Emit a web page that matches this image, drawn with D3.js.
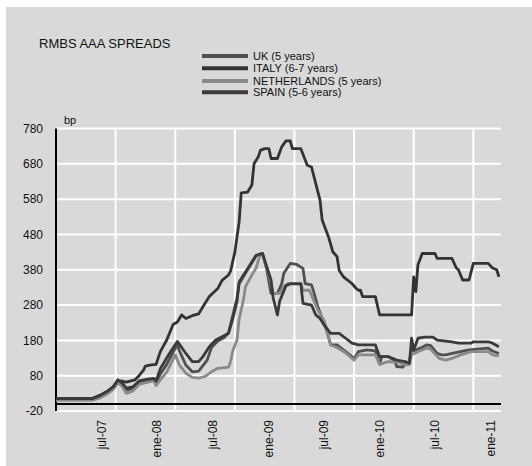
<!DOCTYPE html>
<html><head><meta charset="utf-8">
<script src="https://cdn.jsdelivr.net/npm/d3@7/dist/d3.min.js"></script>
<style>
html,body{margin:0;padding:0;background:#fff;}
svg{display:block;font-family:"Liberation Sans",Arial,sans-serif;}
</style></head>
<body>
<svg id="c" width="532" height="466"></svg>
<script>
// ---- data (x = week index from 2 Feb 2007, y = spread in bp) ----
const seriesNames = ["UK (5 years)", "ITALY (6-7 years)", "NETHERLANDS (5 years)", "SPAIN (5-6 years)"];
const uk = [[0,15],[17,15],[21,25],[24,35],[27,49],[29,68],[31,58],[33,38],[36,44],[39,63],[43,68],[46,70],[47,58],[49,85],[52,112],[54,135],[57,168],[58,150],[61,110],[64,91],[67,93],[71,124],[73,160],[76,178],[79,188],[81,200],[83,250],[85,300],[86,340],[89,370],[91,390],[94,420],[97,426],[99,380],[101,313],[104,313],[106,340],[107,370],[110,398],[113,395],[116,384],[117,341],[120,337],[121,318],[123,275],[125,241],[127,210],[129,167],[132,167],[136,148],[140,129],[142,148],[146,153],[150,150],[152,112],[153,134],[156,134],[159,124],[160,106],[163,104],[164,117],[165,113],[166,120],[167,158],[168,150],[171,158],[174,167],[176,165],[179,143],[181,139],[183,139],[186,143],[190,148],[194,153],[203,158],[205,150],[208,143]];
const italy = [[0,15],[17,15],[20,22],[24,35],[27,49],[29,64],[31,65],[33,62],[37,68],[39,80],[41,95],[42,107],[44,110],[47,112],[49,148],[52,181],[55,225],[57,232],[59,252],[61,242],[64,250],[67,255],[69,275],[72,304],[76,327],[78,350],[81,365],[82,376],[84,430],[86,515],[87,598],[90,600],[92,620],[93,680],[95,700],[96,718],[98,723],[100,723],[101,695],[104,695],[106,728],[108,745],[110,745],[111,723],[115,723],[118,676],[120,671],[122,624],[124,577],[125,521],[128,473],[130,431],[132,417],[133,378],[135,360],[139,341],[141,327],[142,322],[143,322],[144,304],[150,304],[152,252],[167,252],[168,360],[169,318],[170,395],[171,410],[172,426],[178,426],[179,412],[186,412],[188,385],[189,380],[191,351],[194,351],[196,398],[203,398],[205,385],[207,380],[208,360]];
const netherlands = [[0,10],[17,10],[21,18],[24,28],[27,42],[29,60],[31,50],[33,30],[36,36],[39,55],[43,62],[46,65],[47,52],[49,68],[52,90],[56,139],[58,110],[61,87],[64,75],[67,73],[70,78],[71,82],[74,95],[76,101],[81,104],[82,120],[83,150],[85,181],[86,240],[88,294],[89,332],[92,365],[94,385],[96,426],[97,420],[99,388],[101,340],[102,313],[105,313],[107,332],[109,341],[115,341],[116,322],[119,322],[121,294],[123,266],[126,235],[129,167],[132,160],[136,145],[140,124],[142,139],[150,139],[152,112],[156,120],[161,118],[164,110],[166,112],[167,139],[170,148],[174,158],[176,155],[180,129],[183,124],[186,129],[190,139],[195,148],[203,148],[205,139],[208,136]];
const spain = [[0,15],[17,15],[21,25],[24,35],[27,49],[29,68],[31,60],[33,45],[36,48],[39,65],[43,70],[46,72],[47,65],[49,100],[52,130],[54,150],[57,177],[61,143],[64,120],[67,120],[69,134],[72,162],[75,181],[78,190],[81,200],[83,240],[85,290],[86,345],[89,374],[91,393],[94,421],[97,426],[99,388],[101,351],[102,300],[104,252],[105,290],[108,335],[110,340],[115,340],[116,285],[120,280],[122,252],[124,242],[126,223],[129,200],[133,200],[136,186],[139,172],[142,167],[150,167],[151,150],[152,134],[156,134],[160,124],[164,120],[166,115],[167,186],[168,153],[170,186],[173,189],[177,189],[179,181],[186,176],[189,172],[195,172],[196,176],[203,176],[205,172],[208,162]];
const seriesColors = ["#505050", "#333333", "#8a8a8a", "#3a3a3a"];
const yTicks = [-20, 80, 180, 280, 380, 480, 580, 680, 780];
const xTickDates = ["2007-07-01","2008-01-01","2008-07-01","2009-01-01","2009-07-01","2010-01-01","2010-07-01","2011-01-01"];
const xTickLabels = ["jul-07","ene-08","jul-08","ene-09","jul-09","ene-10","jul-10","ene-11"];
const gridWeeks = [28, 56, 84, 112, 140, 168, 196];
const startDate = new Date(2007, 1, 2);
const endDate = new Date(2011, 1, 4);

// ---- drawing ----
const svg = d3.select("#c");
const wk = w => d3.timeDay.offset(startDate, Math.round(w * 7));
const x = d3.scaleTime().domain([startDate, endDate]).range([56, 501]);
const y = d3.scaleLinear().domain([-20, 780]).range([411, 128.5]);

svg.append("rect").attr("x", 6).attr("y", 7).attr("width", 526).attr("height", 459).attr("fill", "#d9d9d9");

// grid
const g = svg.append("g");
g.selectAll("line.h").data(yTicks).join("line")
  .attr("x1", x.range()[0]).attr("x2", x.range()[1])
  .attr("y1", d => y(d)).attr("y2", d => y(d))
  .attr("stroke", "#fff").attr("stroke-width", 2);
g.selectAll("line.v").data(gridWeeks).join("line")
  .attr("x1", d => x(wk(d))).attr("x2", d => x(wk(d)))
  .attr("y1", y(780)).attr("y2", y(-20))
  .attr("stroke", "#fff").attr("stroke-width", 2);

// y axis labels
svg.append("g").selectAll("text").data(yTicks).join("text")
  .attr("x", 43).attr("y", d => y(d)).attr("dy", "0.35em")
  .attr("text-anchor", "end").attr("font-size", 12).attr("fill", "#111")
  .text(d => d);

// x labels
svg.append("g").selectAll("text").data(xTickDates).join("text")
  .attr("transform", d => `translate(${x(d3.timeParse("%Y-%m-%d")(d))},420) rotate(-90)`)
  .attr("dy", "0.35em").attr("text-anchor", "end").attr("font-size", 12).attr("fill", "#111")
  .text((d, i) => xTickLabels[i]);

// axes lines
svg.append("line").attr("x1", x.range()[0]).attr("x2", x.range()[1])
  .attr("y1", y(0)).attr("y2", y(0)).attr("stroke", "#000").attr("stroke-width", 2);
svg.append("line").attr("x1", 56).attr("x2", 56)
  .attr("y1", y(780)).attr("y2", y(-20)).attr("stroke", "#000").attr("stroke-width", 2);

// series
const line = d3.line().x(d => x(wk(d[0]))).y(d => y(d[1]));
const allSeries = [uk, italy, netherlands, spain];
svg.append("g").selectAll("path").data(allSeries).join("path")
  .attr("d", line).attr("fill", "none")
  .attr("stroke", (d, i) => seriesColors[i]).attr("stroke-width", 2.8)
  .attr("stroke-linejoin", "round");

// title & unit
svg.append("text").attr("x", 39).attr("y", 48).attr("font-size", 13).attr("fill", "#111").text("RMBS AAA SPREADS");
svg.append("text").attr("x", 64).attr("y", 124).attr("font-size", 11).attr("fill", "#111").text("bp");

// legend
const leg = svg.append("g");
const legY = [56, 68.3, 81, 92.3];
seriesNames.forEach((n, i) => {
  leg.append("line").attr("x1", 202).attr("x2", 248).attr("y1", legY[i]).attr("y2", legY[i])
    .attr("stroke", seriesColors[i]).attr("stroke-width", 4);
  leg.append("text").attr("x", 253).attr("y", legY[i]).attr("dy", "0.35em")
    .attr("font-size", 11).attr("fill", "#111").text(n);
});
</script>
</body></html>
